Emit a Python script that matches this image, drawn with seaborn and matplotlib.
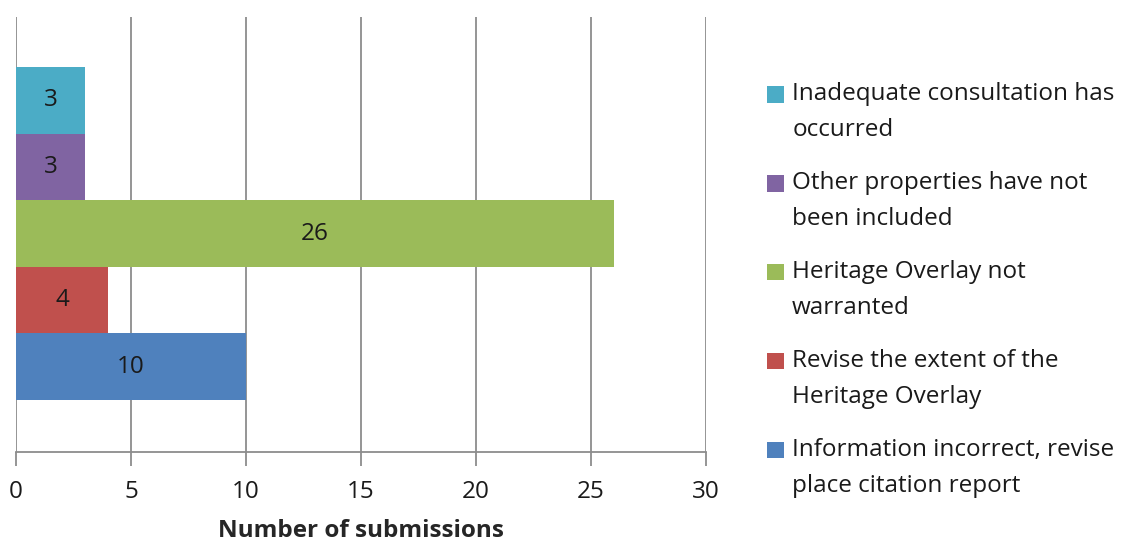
import matplotlib
matplotlib.use("Agg")
import matplotlib.pyplot as plt
import seaborn as sns
import pandas as pd
from matplotlib.patches import Patch, Rectangle
from matplotlib.legend_handler import HandlerPatch

# Data (top to bottom as drawn)
categories = [
    "Inadequate consultation has\noccurred",
    "Other properties have not\nbeen included",
    "Heritage Overlay not\nwarranted",
    "Revise the extent of the\nHeritage Overlay",
    "Information incorrect, revise\nplace citation report",
]
submissions = [3, 3, 26, 4, 10]
bar_colors = ["#4BACC6", "#8064A2", "#9BBB59", "#C0504D", "#4F81BD"]
x_ticks = [0, 5, 10, 15, 20, 25, 30]

df = pd.DataFrame({"Reason": categories, "Submissions": submissions})

sns.set_style("white")
plt.rcParams['font.family'] = ['Open Sans', 'DejaVu Sans']
font_size = 17.5

fig = plt.figure(figsize=(11.38, 5.44), dpi=100)
ax = fig.add_axes([16 / 1138, 92 / 544, 690 / 1138, 435 / 544])

sns.barplot(
    data=df, y="Reason", x="Submissions", hue="Reason",
    palette=dict(zip(categories, bar_colors)), orient="h",
    width=1.0, ax=ax, legend=False, saturation=1, linewidth=0,
)

# Value labels in the middle of each bar
for container in ax.containers:
    ax.bar_label(container, label_type="center", fontsize=font_size, color="#1a1a1a")

ax.set_xlim(0, 30)
ax.set_ylim(5.28, -1.25)
ax.set_xticks(x_ticks)
ax.set_yticks([])
ax.set_ylabel("")
ax.set_xlabel("Number of submissions", fontsize=font_size, fontweight="bold", labelpad=11)
ax.tick_params(axis="x", labelsize=font_size, length=10, width=1.3, color="#8c8c8c",
               bottom=True, pad=10, labelcolor="#1a1a1a")

# Vertical gridlines
ax.grid(axis="x", color="#8c8c8c", linewidth=1.3)
ax.set_axisbelow(True)
for side in ["top", "right", "left"]:
    ax.spines[side].set_visible(False)
ax.spines["bottom"].set_color("#8c8c8c")
ax.spines["bottom"].set_linewidth(1.3)


# Legend squares sit next to the first line of each label
def top_square(legend, orig_handle, xdescent, ydescent, width, height, fontsize):
    return Rectangle((-xdescent, -ydescent + 0.76 * fontsize), width, height)


handles = [Patch(facecolor=c, edgecolor="none") for c in bar_colors]
leg = fig.legend(
    handles, categories, loc="upper left", bbox_to_anchor=(755 / 1138, 474 / 544),
    frameon=False, fontsize=font_size, handlelength=0.68, handleheight=0.68,
    handletextpad=0.35, labelspacing=1.18, borderpad=0,
    handler_map={Patch: HandlerPatch(patch_func=top_square)},
)
for t in leg.get_texts():
    t.set_linespacing(1.68)
    t.set_color("#1a1a1a")

fig.savefig("out.png", dpi=100)
